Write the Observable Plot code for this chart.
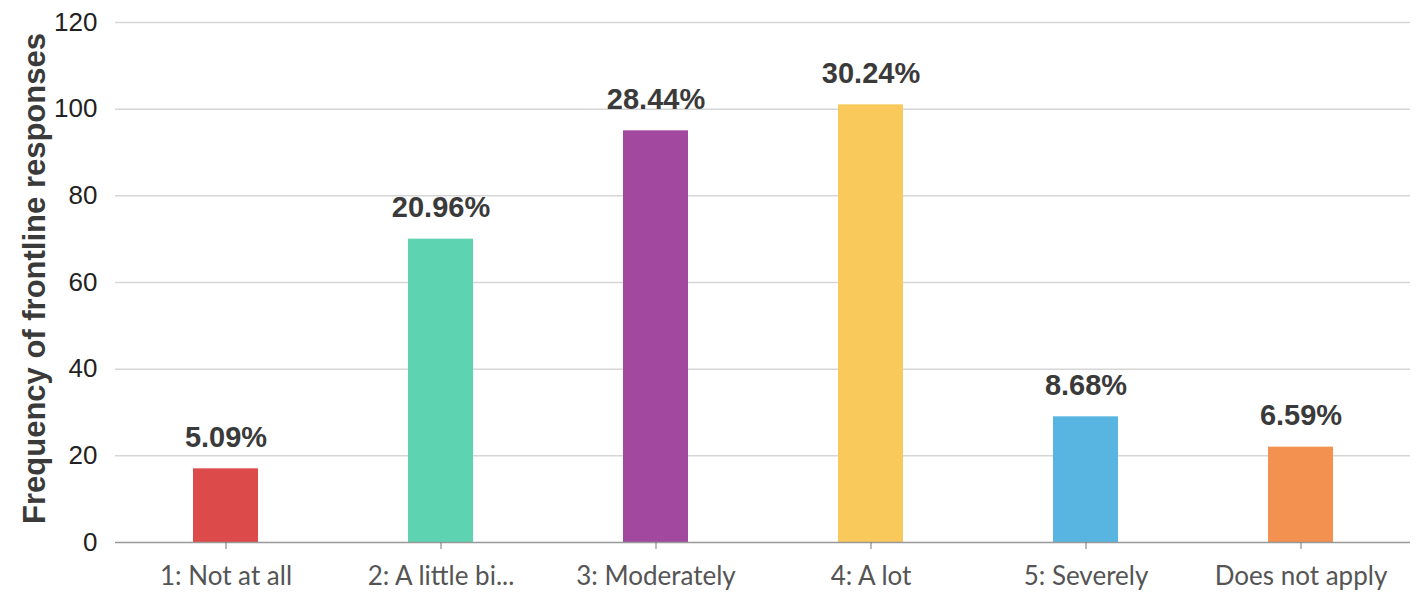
<!DOCTYPE html>
<html>
<head>
<meta charset="utf-8">
<script src="https://cdn.jsdelivr.net/npm/d3@7"></script>
<script src="https://cdn.jsdelivr.net/npm/@observablehq/plot@0.6"></script>
<style>
  html, body { margin: 0; padding: 0; background: #fff; }
  #chart svg { display: block; }
</style>
</head>
<body>
<div id="chart"></div>
<script>
const categories = ["1: Not at all", "2: A little bi...", "3: Moderately", "4: A lot", "5: Severely", "Does not apply"];
const counts = [17, 70, 95, 101, 29, 22];
const percentLabels = ["5.09%", "20.96%", "28.44%", "30.24%", "8.68%", "6.59%"];
const colors = ["#dc4b4a", "#5ed3b2", "#a2489f", "#f9c95b", "#58b5e1", "#f29150"];
const yTicks = [0, 20, 40, 60, 80, 100, 120];

const data = categories.map((c, i) => ({ category: c, count: counts[i], label: percentLabels[i], color: colors[i] }));

const chart = Plot.plot({
  width: 1418,
  height: 599,
  marginLeft: 115,
  marginRight: 8,
  marginTop: 22,
  marginBottom: 57,
  style: { fontFamily: "Lato, 'Open Sans', sans-serif", background: "#fff" },
  x: { domain: categories, paddingInner: 0.7, paddingOuter: 0.35, align: 0.5, label: null },
  y: { domain: [0, 120], ticks: yTicks, label: null },
  marks: [
    Plot.gridY(yTicks.slice(1), { stroke: "#d6d6d6", strokeOpacity: 1, strokeWidth: 1.5 }),
    Plot.barY(data, { x: "category", y: "count", fill: "color" }),
    Plot.ruleY([0], { stroke: "#999", strokeWidth: 1.5 }),
    Plot.text(data, { x: "category", y: "count", text: "label", dy: -31, fontSize: 29, fontWeight: "bold", fill: "#3a3a3a", fontFamily: "Liberation Sans, Arial, sans-serif" }),
    Plot.axisY({ ticks: yTicks, tickSize: 0, tickPadding: 18, fontSize: 26, fill: "#222", label: null, fontFamily: "Liberation Sans, Arial, sans-serif" }),
    Plot.axisX({ tickSize: 7, tickPadding: 17, fontSize: 26, fill: "#555", stroke: "#777", label: null }),
    Plot.text(["Frequency of frontline responses"], { frameAnchor: "left", textAnchor: "middle", dx: -80, dy: -4, rotate: -90, fontSize: 31, fontWeight: "bold", fill: "#3a3a3a", fontFamily: "Liberation Sans, Arial, sans-serif" })
  ]
});

document.getElementById("chart").appendChild(chart);
</script>
</body>
</html>
